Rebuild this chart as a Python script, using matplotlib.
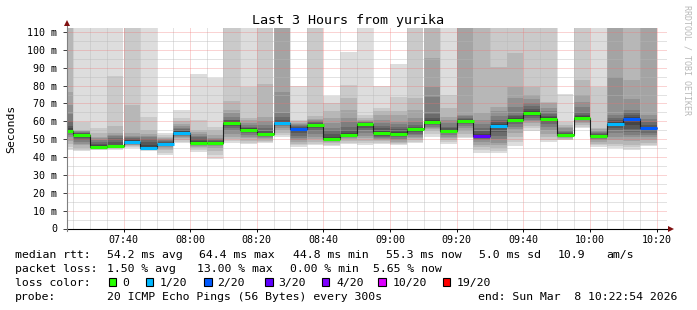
import matplotlib
matplotlib.use("Agg")
import matplotlib.pyplot as plt
import matplotlib.dates as mdates
from matplotlib.lines import Line2D
from matplotlib.patches import Rectangle
from matplotlib.ticker import MultipleLocator, FuncFormatter
import pandas as pd

plt.rcParams["font.family"] = ["DejaVu Sans Mono"]

# --- data (ms) ---
bin_start = pd.date_range("2026-03-08 07:20", periods=36, freq="5min")
window = (pd.Timestamp("2026-03-08 07:22:54"), pd.Timestamp("2026-03-08 10:22:54"))

median = [54.8, 52.5, 45.8, 46.1, 48.6, 45.2, 47.4, 53.7, 48.1, 48.1, 59.3, 55.3,
          52.8, 59.3, 55.8, 57.7, 50.0, 52.4, 58.4, 53.3, 52.8, 55.9, 59.7, 54.3,
          60.4, 51.9, 57.3, 61.0, 64.8, 61.4, 52.2, 61.9, 51.8, 58.6, 61.3, 56.0]

loss = [0, 0, 0, 0, 1, 1, 1, 1, 0, 0, 0, 0, 0, 1, 2, 0, 0, 0,
        0, 0, 0, 0, 0, 0, 0, 3, 1, 0, 0, 0, 0, 0, 0, 1, 2, 2]

# 20 sorted pings per 5 minute bin
pings = [
    [44.0, 45.5, 47.5, 49.0, 51.0, 52.5, 53.5, 54.0, 54.4, 54.7, 55.0, 56.0, 57.5, 60.0, 64.0, 69.0, 76.5, 125, 140, 160],
    [43.4, 44.0, 45.0, 46.5, 47.5, 48.5, 49.5, 50.5, 51.5, 52.2, 52.8, 53.1, 53.4, 53.7, 54.0, 54.4, 54.8, 55.2, 59.8, 130],
    [43.8, 44.2, 44.6, 45.0, 45.2, 45.4, 45.5, 45.6, 45.7, 45.8, 45.9, 46.5, 47.5, 48.5, 49.5, 50.5, 51.5, 53.3, 56.0, 130],
    [44.0, 44.5, 45.0, 45.3, 45.6, 45.8, 45.9, 46.0, 46.0, 46.1, 46.2, 47.0, 48.5, 50.5, 52.0, 52.6, 53.3, 57.5, 85.5, 130],
    [45.0, 45.5, 46.0, 46.5, 47.0, 47.5, 48.0, 48.3, 48.5, 48.6, 48.8, 49.5, 50.0, 50.5, 51.0, 52.0, 53.5, 69.0, 125, 140],
    [43.5, 43.9, 44.3, 44.6, 44.8, 45.0, 45.1, 45.2, 45.2, 45.2, 45.4, 47.0, 48.5, 50.0, 51.0, 52.0, 53.0, 55.0, 62.6, 130],
    [41.2, 42.5, 43.8, 44.5, 45.5, 46.0, 46.5, 46.8, 47.0, 47.3, 47.6, 48.0, 48.5, 49.0, 49.5, 50.0, 50.5, 51.2, 52.3, 53.4],
    [47.8, 48.5, 49.5, 50.5, 51.5, 52.0, 52.5, 53.0, 53.3, 53.6, 53.9, 54.5, 55.0, 55.5, 56.5, 57.5, 58.5, 60.0, 62.0, 66.4],
    [43.1, 44.0, 44.8, 45.5, 46.2, 46.8, 47.2, 47.5, 47.8, 48.0, 48.3, 49.0, 50.0, 51.0, 52.0, 53.0, 54.0, 55.0, 60.5, 86.5],
    [38.8, 41.0, 43.5, 45.0, 46.0, 46.8, 47.3, 47.6, 47.8, 48.0, 48.3, 48.6, 49.0, 49.6, 50.2, 50.7, 52.5, 55.0, 57.0, 84.5],
    [47.8, 49.0, 50.0, 51.5, 53.0, 54.5, 56.0, 57.5, 58.5, 59.1, 59.5, 60.0, 60.5, 61.0, 62.5, 64.5, 66.5, 71.5, 125, 140],
    [47.4, 48.1, 49.0, 50.5, 51.5, 52.4, 53.5, 54.3, 54.8, 55.1, 55.5, 56.0, 56.5, 57.0, 58.0, 59.0, 60.8, 62.0, 79.0, 130],
    [48.0, 48.5, 49.2, 50.0, 50.8, 51.5, 52.0, 52.4, 52.6, 52.7, 53.0, 53.5, 54.5, 56.0, 58.0, 60.0, 62.6, 81.0, 125, 140],
    [51.5, 52.5, 53.5, 55.0, 56.5, 57.5, 58.3, 58.8, 59.0, 59.2, 59.4, 60.0, 61.0, 62.5, 64.5, 76.5, 125, 135, 145, 160],
    [45.9, 46.6, 47.5, 48.5, 49.5, 50.5, 52.0, 53.5, 54.8, 55.5, 56.0, 56.5, 57.0, 57.5, 58.0, 58.5, 59.0, 60.0, 61.0, 80.0],
    [46.8, 47.5, 48.5, 50.0, 51.5, 53.0, 54.5, 56.0, 57.0, 57.6, 58.0, 58.5, 59.0, 59.5, 60.0, 60.5, 61.5, 63.0, 125, 140],
    [46.2, 47.0, 47.8, 48.5, 49.0, 49.4, 49.7, 49.8, 49.9, 50.0, 50.1, 51.5, 53.0, 55.0, 56.5, 58.9, 62.0, 65.8, 70.0, 74.3],
    [47.3, 48.0, 49.0, 50.0, 50.8, 51.4, 51.8, 52.1, 52.3, 52.4, 52.7, 53.5, 55.0, 57.0, 59.5, 61.7, 66.4, 73.0, 80.3, 99.0],
    [46.8, 47.8, 49.0, 50.5, 52.0, 53.5, 55.0, 56.5, 57.5, 58.2, 58.6, 59.0, 59.3, 59.6, 59.8, 60.2, 61.0, 62.0, 63.6, 130],
    [47.3, 48.0, 48.8, 49.5, 50.3, 50.8, 51.1, 52.0, 52.8, 53.2, 53.5, 54.5, 56.0, 57.5, 59.0, 61.0, 63.5, 65.5, 67.3, 79.6],
    [46.7, 47.3, 48.0, 48.7, 49.5, 50.3, 51.0, 51.8, 52.3, 52.7, 53.0, 54.0, 55.5, 57.0, 58.5, 59.8, 63.5, 66.0, 73.5, 92.0],
    [47.7, 48.5, 49.5, 50.5, 51.5, 52.2, 53.0, 54.0, 54.8, 55.6, 56.1, 56.5, 57.0, 58.0, 59.8, 62.0, 66.4, 73.0, 125, 140],
    [51.5, 53.0, 54.5, 55.5, 56.2, 57.0, 58.0, 58.8, 59.3, 59.6, 60.0, 61.0, 62.0, 64.0, 73.8, 79.4, 95.3, 125, 140, 160],
    [47.2, 48.5, 49.5, 50.5, 51.5, 52.5, 53.2, 53.7, 54.0, 54.2, 54.5, 55.0, 56.0, 57.0, 58.9, 61.0, 62.6, 67.3, 74.8, 130],
    [50.5, 51.5, 53.0, 54.5, 56.0, 57.5, 58.5, 59.3, 59.8, 60.3, 60.6, 61.0, 61.5, 62.0, 62.8, 63.6, 125, 135, 145, 160],
    [42.5, 44.0, 45.5, 47.0, 48.5, 49.5, 50.2, 50.8, 51.3, 51.7, 52.0, 53.0, 54.5, 56.5, 58.5, 61.0, 64.5, 125, 140, 160],
    [42.3, 43.5, 45.0, 46.5, 48.0, 50.0, 52.0, 54.0, 56.0, 57.0, 57.8, 58.5, 59.5, 61.0, 63.0, 65.5, 68.2, 90.6, 125, 140],
    [46.3, 48.5, 51.0, 53.5, 55.5, 57.0, 58.5, 59.5, 60.3, 60.9, 61.5, 62.0, 62.8, 63.6, 68.0, 72.9, 79.0, 98.0, 125, 140],
    [54.3, 56.0, 57.5, 59.0, 60.0, 61.0, 62.0, 63.0, 64.0, 64.6, 65.2, 66.0, 67.0, 68.5, 70.5, 72.5, 74.8, 79.4, 125, 140],
    [48.3, 49.5, 51.0, 53.0, 55.0, 57.0, 58.5, 59.8, 60.7, 61.2, 61.7, 62.2, 63.0, 64.0, 65.5, 67.3, 70.0, 71.0, 125, 140],
    [49.3, 49.8, 50.3, 50.8, 51.2, 51.5, 51.7, 51.9, 52.0, 52.1, 52.5, 53.0, 53.5, 54.0, 55.0, 56.0, 57.0, 58.0, 59.4, 75.5],
    [56.2, 57.0, 58.0, 59.0, 59.8, 60.5, 61.0, 61.4, 61.7, 61.9, 62.2, 62.8, 63.5, 65.0, 68.0, 71.0, 74.5, 83.2, 125, 140],
    [45.6, 46.5, 47.5, 48.5, 49.5, 50.3, 50.8, 51.2, 51.5, 51.7, 52.0, 52.5, 53.0, 53.5, 54.0, 54.5, 55.5, 56.2, 79.2, 130],
    [44.8, 46.0, 47.5, 49.5, 51.5, 53.3, 55.0, 56.5, 57.8, 58.4, 58.9, 59.5, 60.5, 62.0, 63.6, 85.0, 125, 135, 145, 160],
    [44.0, 45.5, 47.0, 49.0, 51.0, 52.5, 54.0, 55.5, 58.0, 60.5, 61.8, 62.5, 63.5, 65.0, 66.4, 72.5, 83.0, 125, 140, 160],
    [46.0, 47.0, 48.0, 49.5, 51.0, 52.5, 53.5, 54.5, 55.3, 55.9, 56.5, 57.0, 58.0, 59.5, 61.5, 63.6, 125, 135, 145, 160],
]

loss_steps = [0, 1, 2, 3, 4, 10, 19]
loss_labels = ["0", "1/20", "2/20", "3/20", "4/20", "10/20", "19/20"]
loss_colors = ["#26ff00", "#00b8ff", "#0059ff", "#5e00ff", "#7e00ff", "#dd00ff", "#ff0000"]

stats_rtt = [("median rtt:", 16), ("54.2 ms avg", 107.3), ("64.4 ms max", 200), ("44.8 ms min", 293.3),
             ("55.3 ms now", 386.7), ("5.0 ms sd", 479.3), ("10.9", 558.3), ("am/s", 606.7)]
stats_loss = [("packet loss:", 16), ("1.50 % avg", 107.3), ("13.00 % max", 198),
              ("0.00 % min", 291), ("5.65 % now", 374)]

W, H = 697, 310
LEG = 8.25


def fx(px):
    return px / W


def fy(py):
    return 1 - py / H


fig = plt.figure(figsize=(W / 100, H / 100), dpi=100)
fig.patch.set_facecolor("white")
ax = fig.add_axes([fx(66.5), fy(228.5), 600 / W, 200.2 / H])

# --- smoke: stacked grey bands, outer pings lightest ---
left = mdates.date2num(bin_start)
width = 5 / 1440
half = 10
for i in range(half):
    shade = int(190 / half * (half - i - 1)) + 50
    lo = [p[i] for p in pings]
    hi = [p[19 - i] for p in pings]
    ax.bar(left, [h - l for h, l in zip(hi, lo)], width=width, bottom=lo, align="edge",
           color="#%02x%02x%02x" % (shade, shade, shade), linewidth=0, antialiased=False, zorder=1)

# --- median: dark step + loss coloured segments ---
edges = list(left) + [left[-1] + width]
ax.stairs(median, edges, baseline=None, color="#202020", lw=0.8, zorder=3)
seg_colors = [loss_colors[loss_steps.index(l)] for l in loss]
ax.hlines(median, left, left + width, colors=seg_colors, lw=2.2, zorder=4, capstyle="butt")

ax.set_xlim(mdates.date2num(window[0]), mdates.date2num(window[1]))
ax.set_ylim(0, 112.07)

ax.xaxis.set_major_locator(mdates.MinuteLocator(byminute=[0, 20, 40]))
ax.xaxis.set_minor_locator(mdates.MinuteLocator(byminute=range(0, 60, 5)))
ax.xaxis.set_major_formatter(mdates.DateFormatter("%H:%M"))
ax.yaxis.set_major_locator(MultipleLocator(10))
ax.yaxis.set_minor_locator(MultipleLocator(5))
ax.yaxis.set_major_formatter(FuncFormatter(lambda v, p: "0" if v == 0 else f"{v:.0f} m"))

ax.set_axisbelow(False)
ax.grid(which="minor", color="#b8b8b8", lw=0.72, ls=(0, (1, 1)), alpha=0.8)
ax.grid(which="major", color="#f07070", lw=0.72, ls=(0, (1, 1)), alpha=0.6)
ax.tick_params(which="minor", length=0)
ax.tick_params(axis="x", which="major", length=2, width=0.7, color="black", pad=3, labelsize=7.2)
ax.tick_params(axis="y", which="major", length=3, width=0.7, color="#404040", pad=3.5, labelsize=7.2)
for s in ax.spines.values():
    s.set_visible(False)

# axis lines with rrdtool style arrows
fig.add_artist(Line2D([fx(66.5), fx(670)], [fy(228.5), fy(228.5)], color="black", lw=0.8))
fig.add_artist(Line2D([fx(66.5), fx(66.5)], [fy(231), fy(25)], color="#808080", lw=0.8))
fig.add_artist(Line2D([fx(671)], [fy(228.5)], marker=">", ms=4, color="#801010", mew=0))
fig.add_artist(Line2D([fx(66.5)], [fy(23)], marker="^", ms=4, color="#801010", mew=0))

fig.text(fx(347.5), fy(24), "Last 3 Hours from yurika", ha="center", va="baseline", fontsize=9.6)
fig.text(fx(11), fy(128.5), "Seconds", rotation=90, ha="center", va="center", fontsize=LEG)
fig.text(fx(687.5), fy(60), "RRDTOOL / TOBI OETIKER", rotation=270, ha="center", va="center",
         fontsize=6, color="#b8b8b8")

# --- legend block ---
for txt, x in stats_rtt:
    fig.text(fx(x - 0.7), fy(258.3), txt, fontsize=LEG, va="baseline")
for txt, x in stats_loss:
    fig.text(fx(x - 0.7), fy(272.3), txt, fontsize=LEG, va="baseline")

fig.text(fx(15.3), fy(286.3), "loss color:", fontsize=LEG, va="baseline")
box_x = [108.7, 145.7, 204, 265, 321.7, 378.3, 442.7]
label_x = [123.3, 160, 218.3, 279.3, 336.7, 393.3, 457.3]
for bx, lx, lab, col in zip(box_x, label_x, loss_labels, loss_colors):
    fig.add_artist(Rectangle((fx(bx), fy(286)), 7.5 / W, 7.7 / H, transform=fig.transFigure,
                             facecolor=col, edgecolor="black", lw=0.8))
    fig.text(fx(lx - 0.7), fy(286.3), lab, fontsize=LEG, va="baseline")

fig.text(fx(15.3), fy(300), "probe:", fontsize=LEG, va="baseline")
fig.text(fx(106.6), fy(300), "20 ICMP Echo Pings (56 Bytes) every 300s", fontsize=LEG, va="baseline")
fig.text(fx(477.6), fy(300), "end: Sun Mar  8 10:22:54 2026", fontsize=LEG, va="baseline")

fig.savefig("out.png", dpi=100, facecolor="white")
